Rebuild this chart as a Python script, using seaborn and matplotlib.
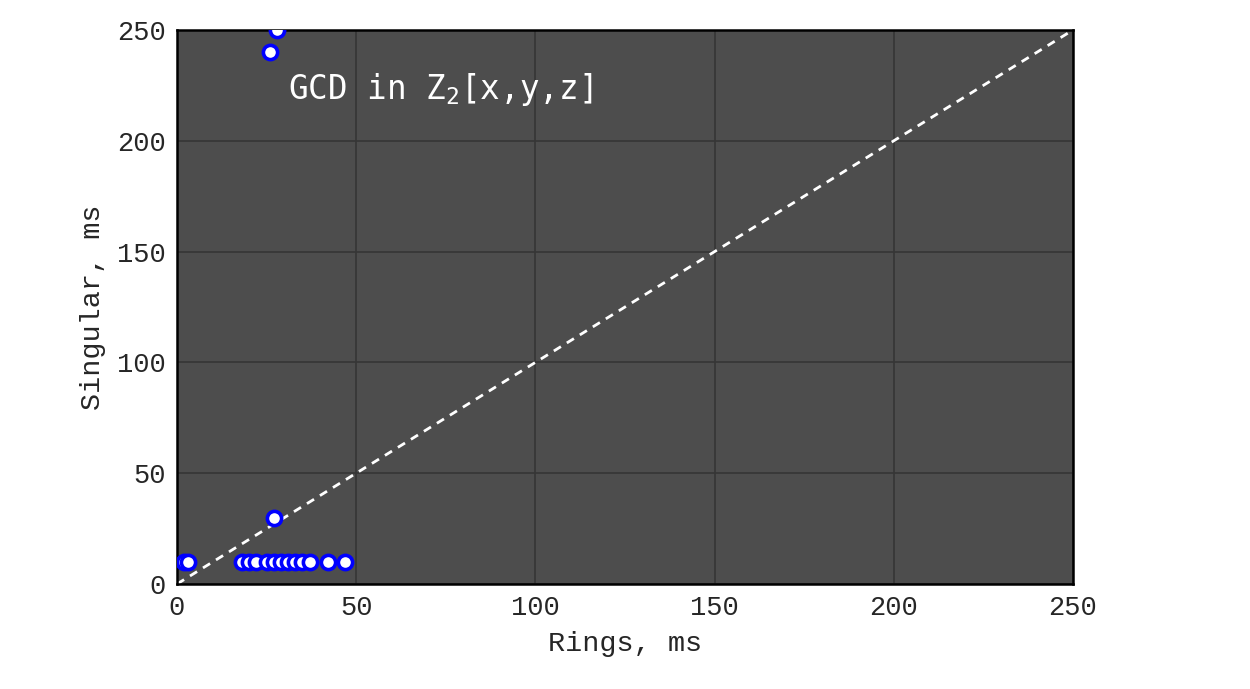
import numpy as np
import pandas as pd
import matplotlib.pyplot as plt
import seaborn as sns

# Timings (ms)
rings_ms = [2, 3, 18, 20, 22, 25, 27, 29, 31, 33, 35, 37, 42, 47, 27, 26, 28]
singular_ms = [10, 10, 10, 10, 10, 10, 10, 10, 10, 10, 10, 10, 10, 10, 30, 240, 250]
diag = [0, 250]

df = pd.DataFrame({'rings': rings_ms, 'singular': singular_ms})

sns.set_style('white')
plt.rcParams['font.family'] = ['Liberation Mono', 'DejaVu Sans Mono']
plt.rcParams['mathtext.default'] = 'regular'

fig = plt.figure(figsize=(12.5, 6.89), dpi=100)
ax = fig.add_axes([0.1416, 0.1524, 0.7168, 0.8041])
ax.set_facecolor('#4d4d4d')

sns.lineplot(x=diag, y=diag, ax=ax, color='white', linestyle=(0, (3, 2.5)),
             linewidth=2, zorder=2)
sns.scatterplot(data=df, x='rings', y='singular', ax=ax, color='white',
                edgecolor='blue', linewidth=2.6, s=105, zorder=3, clip_on=True)

ax.set_xlim(0, 250)
ax.set_ylim(0, 250)
ax.set_xticks([0, 50, 100, 150, 200, 250])
ax.set_yticks([0, 50, 100, 150, 200, 250])
ax.grid(True, color='#363636', linewidth=1.2)
ax.set_axisbelow(True)
for sp in ax.spines.values():
    sp.set_color('black')
    sp.set_linewidth(1.8)

ax.tick_params(labelsize=19.5, length=0, pad=8)
ax.set_xlabel('Rings, ms', fontsize=20.5, labelpad=7)
ax.set_ylabel('Singular, ms', fontsize=20.5, labelpad=8)

ax.text(31, 223, 'GCD in Z$_2$[x,y,z]', color='white', fontsize=23.5,
        family=['DejaVu Sans Mono'], va='center', ha='left')

fig.savefig('out.png', dpi=100)
